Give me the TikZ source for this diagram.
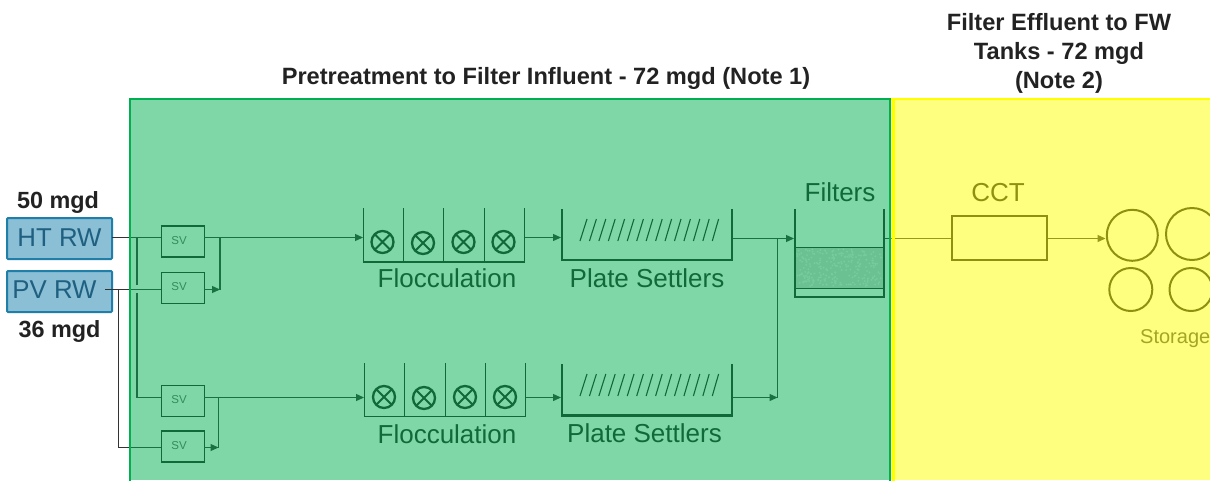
\documentclass[tikz,border=0pt]{standalone}
\usepackage{fontspec}
\setmainfont{Liberation Sans}
\usetikzlibrary{arrows.meta,calc}
\definecolor{ink}{HTML}{222222}
\definecolor{linegrey}{HTML}{333333}
\definecolor{svgrey}{HTML}{666666}
\definecolor{storegrey}{HTML}{4B4B4B}
\definecolor{sandgrey}{HTML}{DAD4D6}
\definecolor{sandspeck}{HTML}{EEEAEC}
\definecolor{rwfill}{HTML}{8ABFD6}
\definecolor{rwedge}{HTML}{1F7FA8}
\definecolor{rwtext}{HTML}{1F5F7F}
\definecolor{zonegreen}{RGB}{0,176,80}
\definecolor{zoneyellow}{RGB}{255,255,0}
\definecolor{titleink}{HTML}{222222}
\tikzset{
  x=1pt,y=-1pt,
  flow/.style={line width=1.3pt,draw=linegrey},
  flowtip/.style={flow,-{Triangle[length=8pt,width=7pt]}},
  rwbox/.style={draw=rwedge,line width=2pt,fill=rwfill,rounded corners=1pt,minimum width=105pt,minimum height=41pt,inner sep=0pt,text=rwtext,font=\fontsize{25.8pt}{28pt}\selectfont},
  svbox/.style={draw=ink,line width=1.3pt,fill=none,minimum width=43pt,minimum height=31pt,inner sep=0pt,text=svgrey,font=\fontsize{11.5pt}{13pt}\selectfont},
  unitlabel/.style={inner sep=0pt,text=ink,font=\fontsize{26pt}{28pt}\selectfont},
  flowtitle/.style={inner sep=0pt,text=titleink,font=\bfseries\fontsize{23.6pt}{29pt}\selectfont,align=center},
  ratelabel/.style={inner sep=0pt,text=titleink,font=\bfseries\fontsize{23.4pt}{26pt}\selectfont},
  mixer/.style={circle,draw=ink,line width=2.3pt,minimum size=22pt,inner sep=0pt,
    path picture={\draw[ink,line width=1.8pt] (path picture bounding box.north west)--(path picture bounding box.south east)
      (path picture bounding box.north east)--(path picture bounding box.south west);}},
  wall/.style={line width=1.3pt,draw=ink},
  heavywall/.style={line width=2.2pt,draw=ink},
  hatch/.style={line width=1.1pt,draw=ink},
  tank/.style={circle,draw=ink,line width=2pt,inner sep=0pt},
  zonefront/.style={fill opacity=.5,draw=none}
}
\begin{document}
\begin{tikzpicture}
\useasboundingbox (0,0) rectangle (1210,480);
\clip (0,0) rectangle (1210,480);
\fill[white] (0,0) rectangle (1210,480);

% source boxes
\node[rwbox] (ht) at (59.5,238.5) {\raisebox{2pt}{HT RW}};
\node[rwbox] (pv) at (59.5,291.5) {\hspace*{-10pt}\raisebox{3pt}{PV RW}};
\node[ratelabel] (r50) at (58,202) {50 mgd};
\node[ratelabel] (r36) at (59.5,331) {36 mgd};

% strainer valves
\node[svbox] (sv1) at (182.8,241.5) {\hspace*{-7.5pt}\raisebox{3pt}{SV}};
\node[svbox] (sv2) at (182.8,288.2) {\hspace*{-7.5pt}\raisebox{3pt}{SV}};
\node[svbox] (sv3) at (182.8,401) {\hspace*{-7.5pt}\raisebox{3pt}{SV}};
\node[svbox] (sv4) at (182.8,446.5) {\hspace*{-7.5pt}\raisebox{2.5pt}{SV}};

% ports
\coordinate (sv1in) at (161,237.5);
\coordinate (sv1out) at (204,237.5);
\coordinate (sv2in) at (161,289.5);
\coordinate (sv2out) at (204,289.5);
\coordinate (sv3in) at (161,397.5);
\coordinate (sv3out) at (204,397.5);
\coordinate (sv4in) at (161,447.5);
\coordinate (sv4out) at (204,447.5);
\coordinate (htout) at (112,237.5);
\coordinate (pvout) at (105,289.5);
\coordinate (hjoin) at (137,237.5);
\coordinate (hgap1) at (137,285);
\coordinate (hgap2) at (137,293);
\coordinate (pjoin) at (118.5,289.5);
\coordinate (tj1) at (220,237.5);
\coordinate (tj2) at (220,289.5);
\coordinate (bj1) at (218.5,397.5);
\coordinate (bj2) at (218.5,447.5);
\coordinate (fl1in) at (363,237.5);
\coordinate (fl2in) at (364,397.5);
\coordinate (fl1out) at (524,237.5);
\coordinate (fl2out) at (525,397.5);
\coordinate (ps1in) at (561,237.5);
\coordinate (ps2in) at (561,397.5);
\coordinate (ps1out) at (731,238.5);
\coordinate (ps2out) at (732,397.5);
\coordinate (fin) at (794,238.5);
\coordinate (fmerge) at (777.5,238.5);
\coordinate (fmerge2) at (777.5,397.5);
\coordinate (fout) at (884,238.5);
\coordinate (cctin) at (952,238.5);
\coordinate (cctout) at (1047,238.5);
\coordinate (stin) at (1105.5,238.5);

% connectors
\draw[flow] (htout)--(sv1in);
\draw[flow] (pvout)--(sv2in);
\draw[flow] (hjoin)--(hgap1);
\draw[flow] (hgap2)|-(sv3in);
\draw[flow] (pjoin)|-(sv4in);
\draw[flowtip] (sv1out)--(fl1in);
\draw[flowtip] (sv3out)--(fl2in);
\draw[flow] (tj1)--(tj2);
\draw[flow] (bj1)--(bj2);
\draw[flowtip] (sv2out)--(tj2);
\draw[flowtip] (sv4out)--(bj2);
\draw[flowtip] (fl1out)--(ps1in);
\draw[flowtip] (fl2out)--(ps2in);
\draw[flowtip] (ps1out)--(fin);
\draw[flow] (fmerge)--(fmerge2);
\draw[flowtip] (ps2out)--(fmerge2);
\draw[flow] (fout)--(cctin);
\draw[flowtip] (cctout)--(stin);

% flocculation, top
\draw[wall] (363.5,208)--(363.5,262)--(524.5,262)--(524.5,208);
\draw[wall] (403.5,208)--(403.5,262) (443.5,208)--(443.5,262) (484.5,208)--(484.5,262);
\node[mixer] (m1) at (382.5,242) {};
\node[mixer] (m2) at (423,243) {};
\node[mixer] (m3) at (463.5,242) {};
\node[mixer] (m4) at (503.5,242) {};
\node[unitlabel] (flocA) at (447,278) {Flocculation};
% flocculation, bottom
\draw[wall] (364.5,363)--(364.5,416.7)--(525.5,416.7)--(525.5,363);
\draw[wall] (404.5,363)--(404.5,416.7) (445.5,363)--(445.5,416.7) (485.5,363)--(485.5,416.7);
\node[mixer] (m5) at (384,397) {};
\node[mixer] (m6) at (424,398) {};
\node[mixer] (m7) at (465,397) {};
\node[mixer] (m8) at (505,397) {};
\node[unitlabel] (flocB) at (447,434) {Flocculation};

% plate settlers
\draw[heavywall] (562,209)--(562,260.3)--(731.7,260.3)--(731.7,209);
\foreach \i in {0,...,14} {\draw[hatch] ({580+\i*9.45},241)--({587+\i*9.4},219);}
\node[unitlabel] (psA) at (647,278) {Plate Settlers};
\draw[heavywall] (562,364)--(562,415.5)--(732,415.5)--(732,364);
\foreach \i in {0,...,14} {\draw[hatch] ({580+\i*9.45},396)--({587+\i*9.4},374);}
\node[unitlabel] (psB) at (644.5,433) {Plate Settlers};

% filter
\fill[sandgrey] (796,247.5) rectangle (883,288);
\pgfmathsetseed{7}
\foreach \i in {1,...,260} {
  \pgfmathsetmacro{\sx}{797+85*rnd}
  \pgfmathsetmacro{\sy}{249+37*rnd}
  \fill[sandspeck] (\sx,\sy) circle (1pt);
}
\draw[line width=.9pt,draw=ink] (796,247.5)--(883,247.5) (796,288.5)--(883,288.5);
\draw[heavywall] (795,209)--(795,297)--(884,297)--(884,209);
\node[unitlabel] (ftr) at (840,192) {Filters};

% CCT and storage
\node[draw=ink,line width=2.2pt,minimum width=95pt,minimum height=44pt,inner sep=0pt] (cct) at (999.5,238) {};
\node[unitlabel] (cctl) at (998,193) {CCT};
\node[tank,minimum size=51pt] (t1) at (1132.3,235.3) {};
\node[tank,minimum size=52pt] (t2) at (1192,234) {};
\node[tank,minimum size=43pt] (t3) at (1130.8,289.5) {};
\node[tank,minimum size=43pt] (t4) at (1191,289.5) {};
\node[inner sep=0pt,anchor=west,text=storegrey,font=\fontsize{20pt}{22pt}\selectfont] (stl) at (1140,338.5) {Storage};

% translucent zones over the process
\fill[zonegreen,zonefront] (130,99) rectangle (890,480);
\fill[zoneyellow,zonefront] (891,99) rectangle (1210,480);
\draw[zoneyellow,line width=2pt] (891,99)--(1211,99);
\draw[zoneyellow,line width=3pt] (893,99)--(893,481);
\draw[zonegreen,line width=2pt] (130,481)--(130,99)--(890,99)--(890,481);

% titles
\node[flowtitle] (tA) at (546,78) {Pretreatment to Filter Influent - 72 mgd (Note 1)};
\node[flowtitle] (tB) at (1059,53) {Filter Effluent to FW\\Tanks - 72 mgd\\(Note 2)};
\end{tikzpicture}
\end{document}
